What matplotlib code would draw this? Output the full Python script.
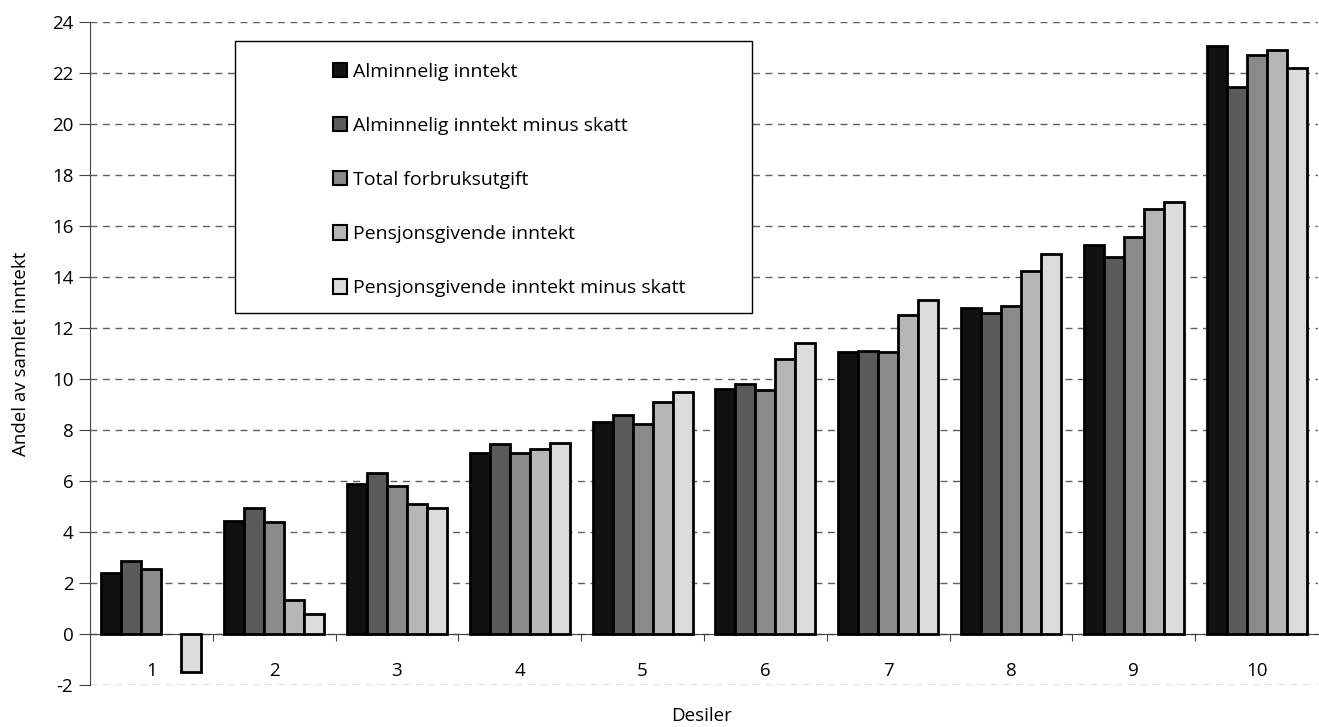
import numpy as np
import matplotlib.pyplot as plt
from matplotlib.patches import Patch, Rectangle

plt.rcParams['font.family'] = ['Open Sans', 'DejaVu Sans']
plt.rcParams['axes.unicode_minus'] = False

deciles = ['1', '2', '3', '4', '5', '6', '7', '8', '9', '10']
series_names = ['Alminnelig inntekt', 'Alminnelig inntekt minus skatt',
                'Total forbruksutgift', 'Pensjonsgivende inntekt',
                'Pensjonsgivende inntekt minus skatt']
alminnelig = [2.4, 4.45, 5.9, 7.1, 8.3, 9.6, 11.05, 12.8, 15.25, 23.05]
alminnelig_skatt = [2.85, 4.95, 6.3, 7.45, 8.6, 9.8, 11.1, 12.6, 14.8, 21.45]
forbruk = [2.55, 4.4, 5.8, 7.1, 8.25, 9.55, 11.05, 12.85, 15.55, 22.7]
pensjon = [0.0, 1.35, 5.1, 7.25, 9.1, 10.8, 12.5, 14.25, 16.65, 22.9]
pensjon_skatt = [-1.5, 0.8, 4.95, 7.5, 9.5, 11.4, 13.1, 14.9, 16.95, 22.2]
colors = ['#111111', '#5a5a5a', '#8a8a8a', '#b6b6b6', '#dcdcdc']

W, H = 1319, 727
fig = plt.figure(figsize=(W / 100, H / 100), dpi=100)
ax = fig.add_axes([90 / W, 42 / H, 1228 / W, 663 / H])

x = np.arange(len(deciles))
w = 0.163
all_series = [alminnelig, alminnelig_skatt, forbruk, pensjon, pensjon_skatt]
for i, vals in enumerate(all_series):
    vals = np.array(vals)
    mask = vals != 0
    ax.bar(x[mask] + (i - 2) * w, vals[mask], width=w, color=colors[i],
           edgecolor='black', linewidth=2, zorder=3)

ax.set_xlim(-0.5, 9.5)
ax.set_ylim(-2, 24)
ax.set_yticks(np.arange(-2, 25, 2))
ax.yaxis.grid(True, linestyle=(0, (5, 4)), color='#606060', linewidth=1)
ax.set_axisbelow(True)

for s in ['top', 'right']:
    ax.spines[s].set_visible(False)
ax.spines['bottom'].set_position(('data', 0))
ax.spines['bottom'].set_color('#444444')
ax.spines['left'].set_color('#444444')

ax.set_xticks(np.arange(0.5, 9.5, 1))
ax.set_xticklabels([])
ax.set_xticks(x, minor=True)
ax.set_xticklabels(deciles, minor=True)
ax.tick_params(axis='x', which='major', direction='out', length=5, color='#444444')
ax.tick_params(axis='x', which='minor', length=0, pad=20, labelsize=13.5)
ax.tick_params(axis='y', length=8, color='#444444', labelsize=13.5, pad=4)

ax.set_ylabel('Andel av samlet inntekt', fontsize=13.5, labelpad=16)
fig.text(0.532, 0.003, 'Desiler', ha='center', va='bottom', fontsize=13.5)

# legend box
box = Rectangle((235 / W, (H - 313) / H), 517 / W, 272 / H,
                transform=fig.transFigure, facecolor='white',
                edgecolor='black', linewidth=1, zorder=4)
fig.patches.append(box)

handles = [Patch(facecolor=c, edgecolor='black', linewidth=1.5) for c in colors]
leg = fig.legend(handles, series_names, loc='upper left',
                 bbox_to_anchor=(323 / W, 1 - 53 / H), frameon=False,
                 fontsize=14, handlelength=0.75, handleheight=0.75,
                 handletextpad=0.3, labelspacing=1.86, borderpad=0)
leg.set_zorder(5)

fig.savefig('out.png', dpi=100)
